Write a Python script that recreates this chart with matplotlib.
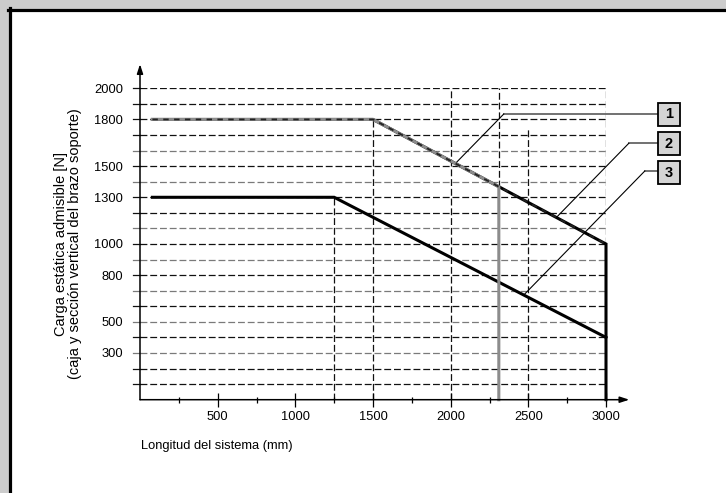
import matplotlib
matplotlib.use("Agg")
import matplotlib.pyplot as plt
from matplotlib.patches import Rectangle
from matplotlib.lines import Line2D

plt.rcParams['font.family'] = ['Liberation Sans', 'DejaVu Sans']

# ---- data ----
curve1_x = [80, 1500, 2310, 2310]
curve1_y = [1800, 1800, 1368, 0]
curve2_x = [80, 1500, 3000, 3000]
curve2_y = [1800, 1800, 1000, 0]
curve3_x = [80, 1250, 3000]
curve3_y = [1300, 1300, 400]

grid_y = list(range(100, 2001, 100))
ytick_labels_vals = [300, 500, 800, 1000, 1300, 1500, 1800, 2000]
xtick_major = [500, 1000, 1500, 2000, 2500, 3000]
xtick_minor = [250, 750, 1250, 1750, 2250, 2750]

# vertical drop lines: (x, ymin, ymax)
drop_x = [1250, 1500, 2000, 2310, 2500, 3000]
drop_ymin = [0, 0, 0, 1368, 0, 1000]
drop_ymax = [1300, 1800, 2000, 2000, 1750, 2000]

labels = ["1", "2", "3"]

W, H = 726, 493
fig = plt.figure(figsize=(W / 100, H / 100), dpi=100)
fig.patch.set_facecolor('#cccccc')

# white page with black frame on top/left
fig.patches.append(Rectangle((10 / W, 0), 1, (H - 10) / H, transform=fig.transFigure,
                             facecolor='white', edgecolor='none', zorder=-10))
fig.lines.append(Line2D([9.5 / W, 9.5 / W], [0, 1 - 8 / H], transform=fig.transFigure,
                        color='black', lw=2.3, zorder=-5))
fig.lines.append(Line2D([8 / W, 1], [1 - 9.5 / H, 1 - 9.5 / H], transform=fig.transFigure,
                        color='black', lw=2.3, zorder=-5))

ax = fig.add_axes([140 / W, 1 - 399.7 / H, 466 / W, (399.7 - 88.3) / H])
ax.set_zorder(5)
ax.set_xlim(0, 3000)
ax.set_ylim(0, 2000)
ax.set_facecolor('none')
for s in ax.spines.values():
    s.set_visible(False)

dash = (0, (5.5, 2.3))
# horizontal grid
for i, gy in enumerate(grid_y):
    col = '#7a7a7a' if gy in (300, 500, 700, 900, 1100, 1400, 1600) else '#111111'
    ax.hlines(gy, 0, 3000, colors=col, linestyles=dash, lw=0.9, zorder=1)
    ax.plot([-45, 0], [gy, gy], color=col, lw=0.9, clip_on=False, zorder=1)

# vertical drop lines
ax.vlines(drop_x, drop_ymin, drop_ymax, colors='#111111', linestyles=dash, lw=0.9, zorder=1)

# curves
ax.plot(curve3_x, curve3_y, color='black', lw=2.2, solid_joinstyle='miter', zorder=3, clip_on=False)
ax.plot(curve2_x, curve2_y, color='black', lw=2.2, solid_joinstyle='miter', zorder=3, clip_on=False)
ax.plot(curve1_x, curve1_y, color='#8c8c8c', lw=2.2, solid_joinstyle='miter', zorder=4, clip_on=False)
ax.plot(curve2_x[:3], curve2_y[:3], color='#222222', lw=1.3, linestyle=(0, (3, 3)), zorder=5, clip_on=False)

# axes with arrows
ax.annotate('', xy=(3150, 0), xytext=(0, 0), annotation_clip=False,
            arrowprops=dict(arrowstyle='-|>,head_length=0.55,head_width=0.18', lw=1.1,
                            color='black', shrinkA=0, shrinkB=0), zorder=6)
ax.annotate('', xy=(0, 2155), xytext=(0, 0), annotation_clip=False,
            arrowprops=dict(arrowstyle='-|>,head_length=0.55,head_width=0.18', lw=1.1,
                            color='black', shrinkA=0, shrinkB=0), zorder=6)

# ticks
ax.set_yticks(ytick_labels_vals)
ax.set_yticklabels([str(v) for v in ytick_labels_vals])
ax.tick_params(axis='y', length=0, pad=12, labelsize=9.3)
ax.set_xticks(xtick_major)
ax.set_xticklabels([str(v) for v in xtick_major])
ax.set_xticks(xtick_minor, minor=True)
ax.tick_params(axis='x', which='major', direction='inout', length=10, width=0.9, pad=3, labelsize=9.3)
ax.tick_params(axis='x', which='minor', direction='inout', length=4.5, width=0.9)

# axis labels
fig.text(141 / W, 1 - 446 / H, 'Longitud del sistema (mm)', ha='left', va='center', fontsize=9.3)
fig.text(68 / W, 1 - 244 / H,
         'Carga estática admisible [N]\n(caja y sección vertical del brazo soporte)',
         rotation=90, ha='center', va='center', multialignment='center', fontsize=10.5,
         linespacing=1.0)

# leader lines and numbered boxes
leader_h = [[(2342, 1835), (3333, 1835)], [(3147, 1647), (3333, 1647)], [(3250, 1469), (3333, 1469)]]
leader_d = [[(2040, 1527), (2342, 1835)], [(2683, 1173), (3147, 1647)], [(2477, 679), (3250, 1469)]]
box_top = [1906, 1719, 1533]
for lab, hseg, dseg, bt in zip(labels, leader_h, leader_d, box_top):
    ax.plot([p[0] for p in hseg], [p[1] for p in hseg], color='#666666', lw=1.3, clip_on=False, zorder=6)
    ax.plot([p[0] for p in dseg], [p[1] for p in dseg], color='black', lw=0.8, clip_on=False, zorder=6)
    ax.add_patch(Rectangle((3333, bt - 148), 142, 148, facecolor='#d4d4d4', edgecolor='black',
                           lw=1.3, clip_on=False, zorder=7))
    ax.text(3333 + 71, bt - 74, lab, ha='center', va='center', fontsize=10.5,
            fontweight='bold', zorder=8, clip_on=False)

fig.savefig('out.png', dpi=100)
